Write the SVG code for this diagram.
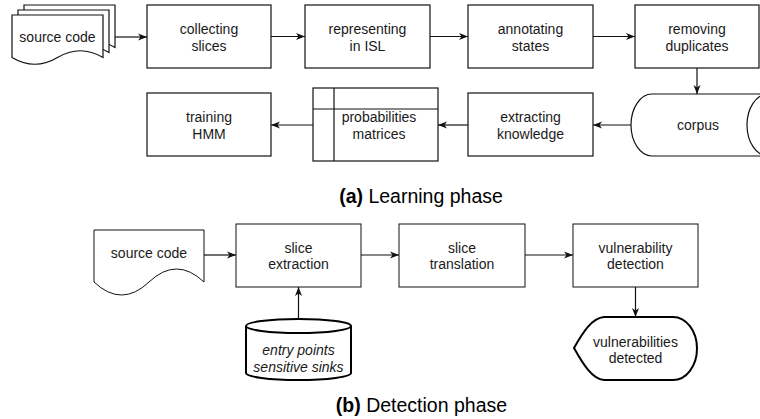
<svg xmlns="http://www.w3.org/2000/svg" width="760" height="419" viewBox="0 0 760 419">
<defs>
<style>
.box{fill:#fff;stroke:#111;stroke-width:1.2}
.thin{fill:#fff;stroke:#111;stroke-width:1}
.thick{fill:#fff;stroke:#000;stroke-width:2}
.t{font-family:"Liberation Sans",Arial,sans-serif;font-size:14px;fill:#1a1a1a;text-anchor:middle}
.it{font-style:italic}
.cap{font-family:"Liberation Sans",Arial,sans-serif;font-size:19.5px;fill:#000;text-anchor:middle}
.conn path{fill:none;stroke:#111;stroke-width:1.2;marker-end:url(#arr)}
</style>
<marker id="arr" markerUnits="userSpaceOnUse" markerWidth="10" markerHeight="8" refX="9" refY="4" orient="auto">
<path d="M0,0.5 L9,4 L0,7.5 L2.5,4 Z" fill="#111"/>
</marker>
</defs>
<rect width="760" height="419" fill="#fff"/>

<!-- Learning phase -->
<g id="src-multi">
<path class="box" d="M24,5 H115 V47.5 Q92.25,34 69.5,47.5 Q46.75,61 24,47.5 Z"/>
<path class="box" d="M18,10 H109 V52.5 Q86.25,39 63.5,52.5 Q40.75,66 18,52.5 Z"/>
<path class="box" d="M12,15 H103 V57.5 Q80.25,44 57.5,57.5 Q34.75,71 12,57.5 Z"/>
<text class="t" x="57.5" y="42">source code</text>
</g>
<g id="collecting">
<rect class="box" x="147" y="5" width="124" height="63"/>
<text class="t" x="209" y="33.5">collecting</text>
<text class="t" x="209" y="50.5">slices</text>
</g>
<g id="representing">
<rect class="box" x="305" y="5" width="125" height="63"/>
<text class="t" x="367.5" y="33.5">representing</text>
<text class="t" x="367.5" y="50.5">in ISL</text>
</g>
<g id="annotating">
<rect class="box" x="468" y="5" width="125" height="63"/>
<text class="t" x="530.5" y="33.5">annotating</text>
<text class="t" x="530.5" y="50.5">states</text>
</g>
<g id="removing">
<rect class="box" x="635" y="5" width="124" height="63"/>
<text class="t" x="697" y="33.5">removing</text>
<text class="t" x="697" y="50.5">duplicates</text>
</g>
<g id="corpus">
<path class="box" d="M652,94 H770 M652,156 H770 M652,94 A21,31 0 0 0 652,156 M768,94 A21,31 0 0 0 768,156"/>
<text class="t" x="698" y="130">corpus</text>
</g>
<g id="extracting">
<rect class="box" x="468" y="93" width="125" height="63"/>
<text class="t" x="530.5" y="121.5">extracting</text>
<text class="t" x="530.5" y="138.5">knowledge</text>
</g>
<g id="matrices">
<rect class="box" x="313" y="88" width="125" height="73"/>
<path class="box" d="M334,88 V161 M313,109 H438"/>
<text class="t" x="379" y="122">probabilities</text>
<text class="t" x="379" y="139">matrices</text>
</g>
<g id="training">
<rect class="box" x="147" y="93" width="124" height="63"/>
<text class="t" x="209" y="121.5">training</text>
<text class="t" x="209" y="138.5">HMM</text>
</g>
<text class="cap" x="421" y="203"><tspan font-weight="bold">(a)</tspan> Learning phase</text>

<!-- Detection phase -->
<g id="src-doc">
<path class="thin" d="M94,230 H204 V282 Q176.5,256 149,282 Q121.5,308 94,282 Z"/>
<text class="t" x="149" y="258">source code</text>
</g>
<g id="slice-extraction">
<rect class="thin" x="236" y="224" width="125" height="63"/>
<text class="t" x="298.5" y="253">slice</text>
<text class="t" x="298.5" y="269">extraction</text>
</g>
<g id="slice-translation">
<rect class="thin" x="399" y="224" width="126" height="63"/>
<text class="t" x="462" y="253">slice</text>
<text class="t" x="462" y="269">translation</text>
</g>
<g id="vuln-detection">
<rect class="thin" x="573" y="224" width="125" height="63"/>
<text class="t" x="635.5" y="253">vulnerability</text>
<text class="t" x="635.5" y="269">detection</text>
</g>
<g id="entry-db">
<path class="thick" d="M246,326 V373 A52.5,7 0 0 0 351,373 V326"/>
<ellipse class="thick" cx="298.5" cy="326" rx="52.5" ry="7"/>
<text class="t it" x="298.5" y="355">entry points</text>
<text class="t it" x="298.5" y="372">sensitive sinks</text>
</g>
<g id="vulns-detected">
<path class="thick" d="M574,348 C583,332 592,318 604,317 H673 A24,31.5 0 0 1 673,380 H604 C592,379 583,364 574,348 Z"/>
<text class="t" x="635.5" y="347">vulnerabilities</text>
<text class="t" x="635.5" y="363">detected</text>
</g>
<text class="cap" x="421.5" y="412"><tspan font-weight="bold">(b)</tspan> Detection phase</text>

<g id="connectors" class="conn">
<path d="M115,37 H147"/>
<path d="M271,36.5 H305"/>
<path d="M430,36.5 H468"/>
<path d="M593,36.5 H635"/>
<path d="M697,68 V94"/>
<path d="M631,125 H593"/>
<path d="M468,125 H438"/>
<path d="M313,125 H271"/>
<path d="M204,255 H236"/>
<path d="M361,255 H399"/>
<path d="M525,255 H573"/>
<path d="M298.5,319 V287"/>
<path d="M635.5,287 V317"/>
</g>
</svg>
